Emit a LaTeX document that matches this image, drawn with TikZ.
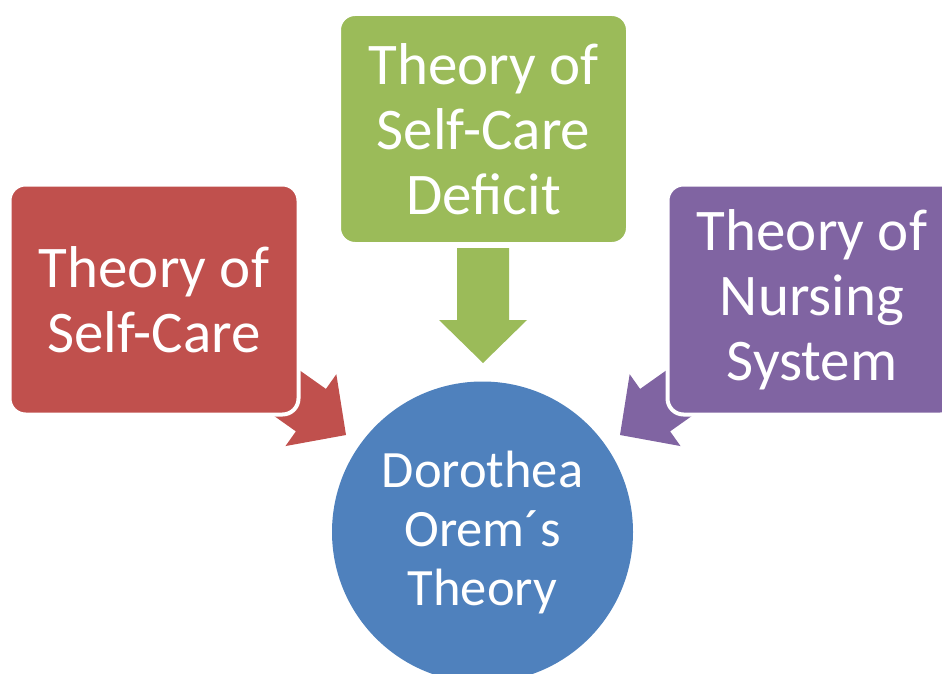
\documentclass[tikz,border=0pt]{standalone}
\usepackage{fontspec}
\setmainfont{Carlito}
\usetikzlibrary{backgrounds}
\definecolor{careRed}{HTML}{C0504D}
\definecolor{deficitGreen}{HTML}{9BBB59}
\definecolor{nursingPurple}{HTML}{8064A2}
\definecolor{oremBlue}{HTML}{4F81BD}
\tikzset{
  pics/blockarrow/.style={code={
    % block arrow with its tip at the origin, pointing along +x
    \fill[#1] (0,0) -- (-43,44) -- (-43,26) -- (-115,26) -- (-115,-26)
      -- (-43,-26) -- (-43,-44) -- cycle;
  }},
  theorybox/.style={rounded corners=16pt, draw=white, line width=4pt,
    text=white, align=center, inner sep=0pt,
    minimum width=289pt, minimum height=230pt,
    font=\fontsize{59}{65}\selectfont},
  corecircle/.style={circle, fill=oremBlue, text=white, align=center,
    inner sep=0pt, minimum size=301pt,
    font=\fontsize{52.5}{59}\selectfont},
}
\begin{document}
\begin{tikzpicture}[x=1pt,y=-1pt]
\useasboundingbox (0,0) rectangle (942,674);
\clip (0,0) rectangle (942,674);

\node[theorybox, fill=careRed] (selfcare) at (154,299.5) {Theory of\\Self-Care};
\node[theorybox, fill=deficitGreen] (deficit) at (483.5,129) {Theory of\\Self-Care\\Deficit};
\node[theorybox, fill=nursingPurple] (nursing) at (812,299.5) {Theory of\\Nursing\\System};
\node[corecircle] (orem) at (482.5,532) {Dorothea\\Orem´s\\Theory};

\begin{scope}[on background layer]
  \pic[rotate=-35.3] at (346,435) {blockarrow=careRed};
  \pic[rotate=-90] at (483,363) {blockarrow=deficitGreen};
  \pic[rotate=-144.7] at (620,435) {blockarrow=nursingPurple};
\end{scope}
\end{tikzpicture}
\end{document}
